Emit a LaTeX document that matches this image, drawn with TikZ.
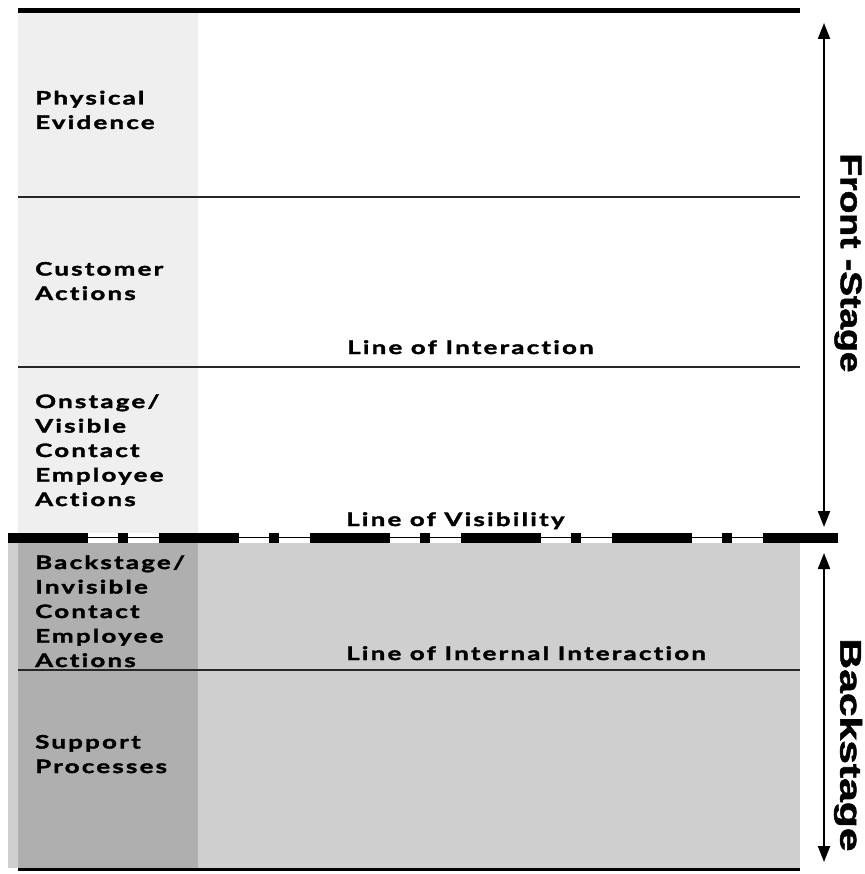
\documentclass[tikz,border=0pt]{standalone}
\usepackage{fontspec}
\setmainfont{Lato}
\newfontfamily\rowfont{Lato}[FakeStretch=1.4, LetterSpace=12, Ligatures=NoCommon,
  BoldFeatures={FakeBold=2}]
\newfontfamily\stagefont{Liberation Sans}[BoldFeatures={FakeBold=1.5}]
\usetikzlibrary{arrows.meta}

\definecolor{frontpanel}{HTML}{EFEFEF}
\definecolor{backpanel}{HTML}{CFCFCF}
\definecolor{backleft}{HTML}{AFAFAF}

\tikzset{
  rowlabel/.style={anchor=base west, align=left, inner sep=0pt,
    font=\rowfont\bfseries\fontsize{18.5}{24.5}\selectfont},
  linelabel/.style={anchor=base west, inner sep=0pt,
    font=\rowfont\bfseries\fontsize{18.5}{24.5}\selectfont},
  stagelabel/.style={rotate=-90, inner sep=0pt,
    font=\stagefont\bfseries\fontsize{30}{30}\selectfont},
  rowline/.style={line width=1.5pt, black!85},
  stagearrow/.style={line width=2pt, {Triangle[width=12pt,length=16pt]}-{Triangle[width=12pt,length=16pt]}},
}

\begin{document}
\begin{tikzpicture}[x=1pt,y=-1pt]
\useasboundingbox (0,0) rectangle (864,874);

% panels
\fill[frontpanel] (18,13) rectangle (198,533);
\fill[backpanel] (8,543) rectangle (800,868);
\fill[backleft] (18,543) rectangle (198,868);

% frame lines
\draw[line width=5pt] (18,10.8) -- (800,10.8);
\draw[line width=2.5pt] (18,869.5) -- (800,869.5);
\draw[rowline] (18,197) -- (800,197);
\draw[rowline] (18,367) -- (800,367);
\draw[rowline] (18,670) -- (800,670);

% line of visibility
\fill[white] (88,537.5) rectangle (838,541.5);
\draw[line width=0.8pt] (8,537.2) -- (838,537.2);
\draw[line width=10pt, dash pattern=on 80pt off 30pt on 10pt off 31pt] (8,538) -- (838,538);

% row labels (anchored on the baseline of the last line)
\node[rowlabel] (pe) at (35,129) {Physical\\Evidence};
\node[rowlabel] (ca) at (35,300) {Customer\\Actions};
\node[rowlabel] (on) at (35,506) {Onstage/\\Visible\\Contact\\Employee\\Actions};
\node[rowlabel] (bs) at (35,667) {Backstage/\\Invisible\\Contact\\Employee\\Actions};
\node[rowlabel] (sp) at (35,773) {Support\\Processes};

% boundary labels
\node[linelabel] (loi) at (347,354) {Line of Interaction};
\node[linelabel] (lov) at (346,526) {Line of Visibility};
\node[linelabel] (lii) at (346,660) {Line of Internal Interaction};

% stage arrows
\coordinate (ft) at (824,23);
\coordinate (fb) at (824,527);
\coordinate (bt) at (824,553);
\coordinate (bb) at (824,862);
\draw[stagearrow] (ft) -- (fb);
\draw[stagearrow] (bt) -- (bb);

\node[stagelabel] (front) at (848,263) {\scalebox{1.24}[1]{Front -Stage}};
\node[stagelabel] (back) at (848,745) {\scalebox{1.42}[1]{Backstage}};
\end{tikzpicture}
\end{document}
